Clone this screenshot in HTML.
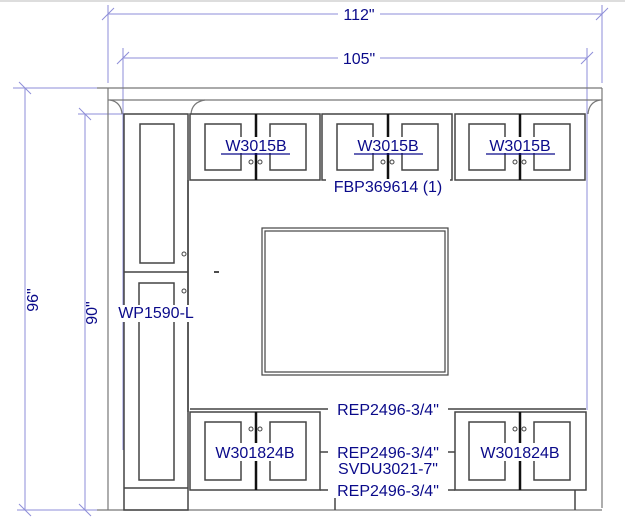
<!DOCTYPE html>
<html><head><meta charset="utf-8"><style>
html,body{margin:0;padding:0;background:#fff;width:625px;height:517px;overflow:hidden}
svg{display:block}
text{font-family:"Liberation Sans",sans-serif;fill:#0a0a8a}
</style></head><body>
<svg width="625" height="517" viewBox="0 0 625 517" xmlns="http://www.w3.org/2000/svg">
<line x1="0" y1="1" x2="625" y2="1" stroke="#bbb" stroke-width="1"/>
<g stroke="#8e8ed8" stroke-width="1" fill="none">
<line x1="108" y1="14" x2="602" y2="14"/>
<line x1="108" y1="5" x2="108" y2="83"/>
<line x1="602" y1="5" x2="602" y2="83"/>
<line x1="102" y1="20" x2="114" y2="8"/><line x1="596" y1="20" x2="608" y2="8"/>
<line x1="123" y1="58" x2="587" y2="58"/>
<line x1="123" y1="48" x2="123" y2="450"/>
<line x1="587" y1="48" x2="587" y2="410"/>
<line x1="117" y1="64" x2="129" y2="52"/><line x1="581" y1="64" x2="593" y2="52"/>
<line x1="25" y1="88" x2="25" y2="510"/>
<line x1="13" y1="88" x2="97" y2="88"/>
<line x1="17" y1="510" x2="100" y2="510"/>
<line x1="19" y1="82" x2="31" y2="94"/><line x1="19" y1="504" x2="31" y2="516"/>
<line x1="85" y1="114" x2="85" y2="510"/>
<line x1="78" y1="114" x2="123" y2="114"/>
<line x1="79" y1="108" x2="91" y2="120"/><line x1="79" y1="504" x2="91" y2="516"/>
</g>
<rect x="338" y="6" width="42" height="16" fill="#fff"/>
<text x="359" y="20" font-size="16" text-anchor="middle">112"</text>
<rect x="338" y="50" width="42" height="16" fill="#fff"/>
<text x="359" y="64" font-size="16" text-anchor="middle">105"</text>
<text transform="translate(38,300) rotate(-90)" font-size="16" text-anchor="middle">96"</text>
<text transform="translate(97,313) rotate(-90)" font-size="16" text-anchor="middle">90"</text>
<g stroke="#777" stroke-width="1.2" fill="none">
<line x1="97" y1="88" x2="602" y2="88"/>
<line x1="108" y1="88" x2="108" y2="510"/>
<line x1="602" y1="88" x2="602" y2="508"/>
<line x1="108" y1="100" x2="602" y2="100"/>
<path d="M110 100 Q121 102 122 114"/>
<path d="M205 100 Q192 102 191 114"/>
<path d="M600 100 Q589 102 588 114"/>
<line x1="97" y1="510" x2="602" y2="510"/>
</g>
<g stroke="#444" stroke-width="1.5" fill="none">
<rect x="190" y="114" width="130" height="66"/>
<rect x="322" y="114" width="130" height="66"/>
<rect x="455" y="114" width="130" height="66"/>
<rect x="205" y="124" width="36" height="46"/><rect x="270" y="124" width="36" height="46"/>
<rect x="337" y="124" width="36" height="46"/><rect x="402" y="124" width="36" height="46"/>
<rect x="469" y="124" width="36" height="46"/><rect x="534" y="124" width="36" height="46"/>
<rect x="124" y="114" width="64" height="396"/>
<rect x="140" y="124" width="34" height="139"/>
<line x1="124" y1="272" x2="188" y2="272"/>
<rect x="139" y="283" width="35" height="197"/>
<line x1="124" y1="488" x2="188" y2="488"/>
<line x1="188" y1="180" x2="188" y2="412"/>
<rect x="262" y="228" width="186" height="147" stroke-width="1.2"/>
<rect x="265" y="231" width="180" height="141" stroke-width="1.2"/>
<line x1="190" y1="409" x2="586" y2="409"/>
<rect x="190" y="412" width="130" height="78"/>
<rect x="455" y="412" width="131" height="78"/>
<rect x="205" y="422" width="36" height="58"/><rect x="270" y="422" width="36" height="58"/>
<rect x="469" y="422" width="36" height="58"/><rect x="534" y="422" width="36" height="58"/>
<line x1="320" y1="490" x2="455" y2="490"/>
<line x1="335" y1="490" x2="335" y2="510"/>
<line x1="575" y1="490" x2="575" y2="510"/>
<line x1="320" y1="452" x2="455" y2="452"/>
</g>
<g stroke="#111" stroke-width="2.5">
<line x1="256" y1="114" x2="256" y2="180"/><line x1="388" y1="114" x2="388" y2="180"/><line x1="520" y1="114" x2="520" y2="180"/>
<line x1="256" y1="412" x2="256" y2="490"/><line x1="520" y1="412" x2="520" y2="490"/>
</g>
<g stroke="#444" fill="none" stroke-width="1">
<circle cx="251" cy="162" r="2"/><circle cx="260" cy="162" r="2"/>
<circle cx="383" cy="162" r="2"/><circle cx="392" cy="162" r="2"/>
<circle cx="515" cy="162" r="2"/><circle cx="524" cy="162" r="2"/>
<circle cx="184" cy="254" r="2"/><circle cx="184" cy="291" r="2"/>
<circle cx="251" cy="429" r="2"/><circle cx="260" cy="429" r="2"/>
<circle cx="515" cy="429" r="2"/><circle cx="524" cy="429" r="2"/>
</g>
<line x1="214" y1="272" x2="219" y2="272" stroke="#111" stroke-width="1.5"/>
<g fill="#fff">
<rect x="220" y="137" width="71" height="16"/><rect x="353" y="137" width="71" height="16"/><rect x="485" y="137" width="71" height="16"/>
<rect x="208" y="443" width="94" height="18"/><rect x="473" y="443" width="94" height="18"/>
</g>
<g font-size="16" text-anchor="middle">
<text x="256" y="151">W3015B</text><text x="388" y="151">W3015B</text><text x="520" y="151">W3015B</text>
</g>
<g stroke="#0a0a8a" stroke-width="1.2">
<line x1="221" y1="154" x2="290" y2="154"/><line x1="354" y1="154" x2="423" y2="154"/><line x1="486" y1="154" x2="555" y2="154"/>
</g>
<rect x="326" y="179" width="124" height="16" fill="#fff"/>
<text x="388" y="192" font-size="16" text-anchor="middle">FBP369614 (1)</text>
<rect x="113" y="305" width="87" height="17" fill="#fff"/>
<text x="156" y="318" font-size="16" text-anchor="middle">WP1590-L</text>
<text x="255" y="458" font-size="16" text-anchor="middle">W301824B</text>
<text x="520" y="458" font-size="16" text-anchor="middle">W301824B</text>
<g font-size="16" text-anchor="middle">
<rect x="328" y="401" width="120" height="16" fill="#fff"/><text x="388" y="415">REP2496-3/4"</text>
<rect x="328" y="444" width="120" height="34" fill="#fff"/><text x="388" y="458">REP2496-3/4"</text>
<text x="388" y="474">SVDU3021-7"</text>
<rect x="328" y="482" width="120" height="16" fill="#fff"/><text x="388" y="496">REP2496-3/4"</text>
</g>
</svg>
</body></html>
